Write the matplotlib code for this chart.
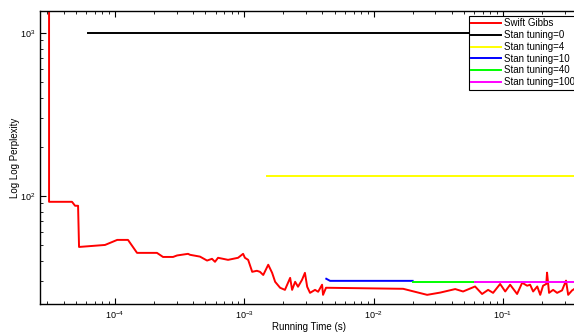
import matplotlib
matplotlib.use('Agg')
import matplotlib.pyplot as plt
import numpy as np

plt.rcParams['font.family'] = ['Liberation Sans', 'DejaVu Sans']

# Swift Gibbs run (time in s, log log perplexity)
gibbs_t = [3.09e-5, 3.09e-5, 4.65e-5, 4.91e-5, 5.18e-5, 5.27e-5, 8.37e-5, 1.04e-4, 1.26e-4,
           1.48e-4, 2.11e-4, 2.35e-4, 2.81e-4, 3.02e-4, 3.67e-4, 3.80e-4, 4.54e-4, 5.15e-4,
           5.62e-4, 5.93e-4, 6.26e-4, 6.84e-4, 7.48e-4, 8.18e-4, 8.94e-4, 9.78e-4, 1.01e-3,
           1.07e-3, 1.15e-3, 1.25e-3, 1.32e-3, 1.40e-3, 1.53e-3, 1.64e-3, 1.73e-3, 1.89e-3,
           2.06e-3, 2.26e-3, 2.34e-3, 2.47e-3, 2.60e-3, 2.79e-3, 2.94e-3, 3.06e-3, 3.22e-3,
           3.52e-3, 3.72e-3, 3.99e-3, 4.06e-3, 4.28e-3, 1.69e-2, 2.59e-2, 3.27e-2, 4.27e-2,
           4.91e-2, 6.08e-2, 6.89e-2, 7.67e-2, 8.38e-2, 9.50e-2, 0.104, 0.1135, 0.1285,
           0.1406, 0.1536, 0.162, 0.171, 0.184, 0.194, 0.204, 0.216, 0.219, 0.227, 0.244,
           0.262, 0.286, 0.307, 0.319, 0.342, 0.36]
gibbs_v = [5000, 92, 92, 87, 87, 48.6, 50.0, 53.7, 53.7,
           44.7, 44.7, 42.2, 42.2, 43.1, 44.1, 43.5, 42.4, 40.1,
           41.1, 39.4, 41.7, 41.1, 40.5, 41.1, 41.7, 44.1, 41.7,
           40.5, 34.2, 34.7, 34.2, 32.7, 37.8, 33.7, 29.7, 27.3,
           26.5, 31.4, 26.5, 29.7, 27.7, 30.5, 33.7, 27.7, 25.4,
           26.5, 25.8, 28.5, 24.7, 27.3, 26.9, 24.7, 25.5, 26.8,
           25.9, 27.8, 25.0, 26.5, 25.4, 28.8, 25.9, 28.5, 25.0,
           29.3, 28.1, 28.5, 25.9, 27.8, 24.7, 28.1, 28.8, 33.8, 25.4, 26.5,
           25.4, 26.3, 30.2, 24.7, 26.3, 27.0]

stan0_t = [6.2e-5, 0.4]
stan0_v = [1000, 1000]
stan4_t = [1.5e-3, 0.4]
stan4_v = [133, 133]
stan10_t = [4.3e-3, 4.6e-3, 0.02]
stan10_v = [31.0, 30.1, 30.1]
stan40_t = [0.02, 0.061]
stan40_v = [29.6, 29.6]
stan100_t = [0.061, 0.4]
stan100_v = [29.6, 29.6]

fig = plt.figure(figsize=(5.74, 3.32), dpi=100)
ax = fig.add_axes([40/574, 28/332, 538/574, 293/332])

ax.plot(gibbs_t, gibbs_v, color='red', lw=1.4, label='Swift Gibbs')
ax.plot(stan0_t, stan0_v, color='black', lw=1.4, label='Stan tuning=0')
ax.plot(stan4_t, stan4_v, color='yellow', lw=1.4, label='Stan tuning=4')
ax.plot(stan10_t, stan10_v, color='blue', lw=1.4, label='Stan tuning=10')
ax.plot(stan40_t, stan40_v, color='#00ff00', lw=1.4, label='Stan tuning=40')
ax.plot(stan100_t, stan100_v, color='magenta', lw=1.4, label='Stan tuning=100')

ax.set_xscale('log')
ax.set_yscale('log')
ax.set_xlim(2.63e-5, 0.38)
ax.set_ylim(21.7, 1365)

ax.tick_params(which='both', direction='in', top=True, right=False, labelsize=6.5)
ax.tick_params(which='major', length=4, width=0.8)
ax.tick_params(which='minor', length=2, width=0.6)
for s in ax.spines.values():
    s.set_linewidth(1.0)

ax.set_xlabel('Running Time (s)', fontsize=7)
ax.xaxis.set_label_coords(0.5, -18/293)
ax.set_ylabel('Log Log Perplexity', fontsize=7)
ax.yaxis.set_label_coords(-20/538, 0.5)

leg = fig.legend(loc='upper left', bbox_to_anchor=(469/574, 1 - 16/332), fontsize=7,
                 fancybox=False, edgecolor='black', framealpha=1, borderpad=0.25,
                 labelspacing=0.18, handlelength=3.0, handletextpad=0.4, borderaxespad=0)
leg.get_frame().set_linewidth(0.8)

fig.savefig('out.png', dpi=100)
